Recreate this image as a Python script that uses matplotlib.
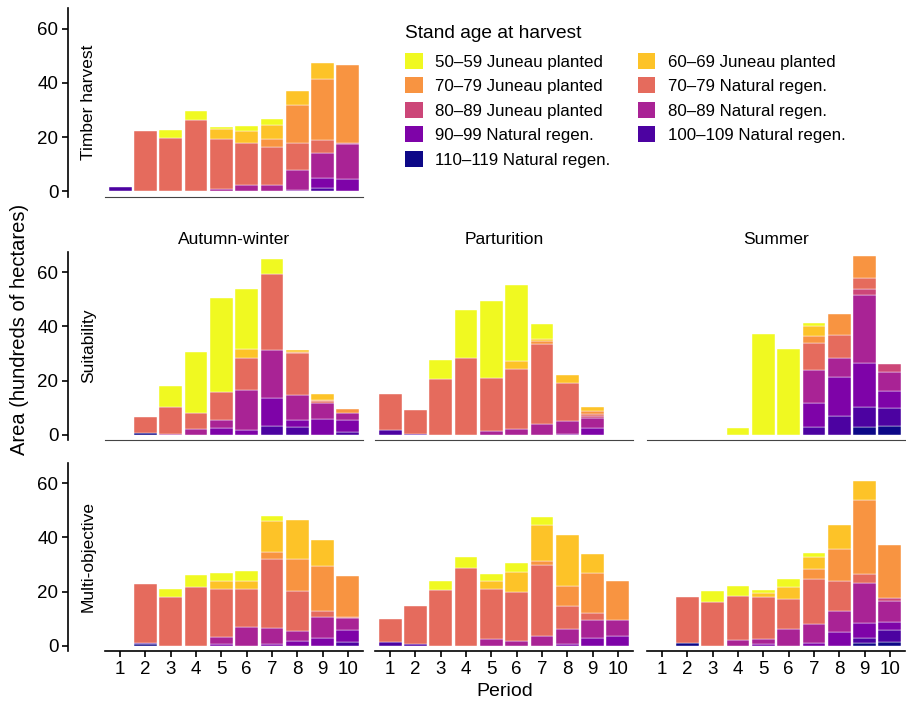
import numpy as np
import matplotlib
matplotlib.use("Agg")
import matplotlib.pyplot as plt
from matplotlib.patches import Patch

plt.rcParams['font.family'] = ['Liberation Sans', 'DejaVu Sans']

periods = np.arange(1, 11)

# legend order (youngest first); bars are stacked in reverse of this
categories = ["50–59 Juneau planted", "60–69 Juneau planted", "70–79 Juneau planted",
              "70–79 Natural regen.", "80–89 Juneau planted", "80–89 Natural regen.",
              "90–99 Natural regen.", "100–109 Natural regen.", "110–119 Natural regen."]
colors = ["#F0F921", "#FDC328", "#F89441", "#E56B5D", "#CC4678",
          "#A92395", "#7E03A8", "#4C02A1", "#0D0887"]

row_names = ["Timber harvest", "Suitability", "Multi-objective"]
col_names = ["Autumn-winter", "Parturition", "Summer"]

# one row per category (same order as `categories`), one column per period
timber = [
    [0, 0, 2.9, 3.3, 0.9, 1.6, 2.2, 0, 0, 0],
    [0, 0, 0, 0, 3.5, 4.4, 5.3, 5.2, 5.9, 0],
    [0, 0, 0, 0, 0, 0, 2.9, 13.9, 22.3, 29.0],
    [0, 22.3, 19.6, 26.5, 18.7, 15.7, 14.0, 10.1, 5.0, 0],
    [0, 0, 0, 0, 0, 0, 0, 0, 0, 0.3],
    [0, 0, 0, 0, 0.7, 2.3, 2.3, 7.4, 9.2, 13.0],
    [0, 0, 0, 0, 0, 0, 0, 0.4, 3.6, 4.5],
    [1.5, 0, 0, 0, 0, 0, 0, 0, 1.3, 0],
    [0, 0, 0, 0, 0, 0, 0, 0, 0, 0],
]

suit_autumn = [
    [0, 0, 8.0, 22.7, 34.7, 22.1, 5.5, 0, 0, 0],
    [0, 0, 0, 0, 0, 3.3, 0, 0.7, 2.1, 0],
    [0, 0, 0, 0, 0, 0, 0, 0.3, 0.6, 1.6],
    [0, 6.0, 9.8, 5.9, 10.3, 11.8, 28.3, 15.6, 0.6, 0],
    [0, 0, 0, 0, 0, 0, 0, 0, 0, 0],
    [0, 0, 0.3, 2.0, 2.8, 15.0, 17.7, 9.4, 5.8, 2.4],
    [0, 0, 0, 0, 2.5, 1.6, 10.1, 2.6, 5.9, 4.5],
    [0, 0, 0, 0, 0, 0, 3.3, 2.7, 0, 1.0],
    [0, 0.5, 0, 0, 0, 0, 0, 0, 0, 0],
]

suit_partur = [
    [0, 0, 7.2, 17.8, 28.4, 28.0, 5.4, 0, 0, 0],
    [0, 0, 0, 0, 0, 3.2, 1.0, 3.3, 1.8, 0],
    [0, 0, 0, 0, 0, 0, 1.1, 0, 1.0, 0],
    [13.5, 8.9, 20.5, 28.4, 19.8, 22.0, 29.6, 13.7, 0.7, 0],
    [0, 0, 0, 0, 0, 0, 0, 0, 0.6, 0],
    [0, 0, 0, 0, 1.2, 2.1, 3.8, 4.9, 4.0, 0],
    [0, 0, 0, 0, 0, 0, 0, 0.3, 2.3, 0],
    [1.6, 0.3, 0, 0, 0, 0, 0, 0, 0, 0],
    [0, 0, 0, 0, 0, 0, 0, 0, 0, 0],
]

suit_summer = [
    [0, 0, 0, 2.6, 37.0, 31.5, 1.1, 0, 0, 0],
    [0, 0, 0, 0, 0, 0, 3.9, 0, 0, 0],
    [0, 0, 0, 0, 0, 0, 2.4, 7.7, 7.8, 0],
    [0, 0, 0, 0, 0, 0, 10.1, 8.5, 4.3, 0],
    [0, 0, 0, 0, 0, 0, 0, 0, 2.2, 3.1],
    [0, 0, 0, 0, 0, 0, 12.2, 6.9, 25.2, 6.7],
    [0, 0, 0, 0, 0, 0, 8.9, 14.5, 16.2, 6.6],
    [0, 0, 0, 0, 0, 0, 2.7, 6.8, 7.3, 6.4],
    [0, 0, 0, 0, 0, 0, 0, 0, 2.8, 3.3],
]

multi_autumn = [
    [0, 0, 3.3, 4.6, 3.0, 3.5, 1.8, 0, 0, 0],
    [0, 0, 0, 0, 2.8, 3.2, 11.6, 14.3, 9.7, 0],
    [0, 0, 0, 0, 0, 0, 2.4, 11.7, 16.6, 14.9],
    [0, 21.8, 17.8, 21.5, 17.9, 13.9, 25.7, 14.9, 2.2, 0.5],
    [0, 0, 0, 0, 0, 0, 0, 0, 0, 0],
    [0, 0, 0, 0, 2.4, 6.9, 5.9, 3.6, 7.8, 4.3],
    [0, 0, 0, 0, 0.7, 0, 0.5, 1.8, 2.9, 4.5],
    [0, 0.5, 0, 0, 0, 0, 0, 0, 0, 1.4],
    [0, 0.6, 0, 0, 0, 0, 0, 0, 0, 0],
]

multi_partur = [
    [0, 0, 3.2, 4.1, 2.5, 3.1, 2.9, 0, 0, 0],
    [0, 0, 0, 0, 2.9, 7.3, 13.5, 19.1, 6.9, 0],
    [0, 0, 0, 0, 0, 0, 1.4, 7.2, 14.6, 14.5],
    [8.3, 14.1, 20.6, 28.8, 18.4, 18.3, 26.2, 8.6, 2.7, 0],
    [0, 0, 0, 0, 0, 0, 0, 0, 0, 0],
    [0, 0, 0, 0, 2.5, 1.7, 3.6, 5.4, 6.8, 5.7],
    [0, 0, 0, 0, 0, 0, 0, 0.7, 2.7, 3.6],
    [1.5, 0.5, 0, 0, 0, 0, 0, 0, 0, 0],
    [0, 0, 0, 0, 0, 0, 0, 0, 0, 0],
]

multi_summer = [
    [0, 0, 4.3, 3.7, 1.2, 2.9, 1.6, 0, 0, 0],
    [0, 0, 0, 0, 1.3, 4.7, 4.4, 8.9, 7.0, 0],
    [0, 0, 0, 0, 0, 0, 3.7, 11.8, 27.3, 19.4],
    [0, 16.8, 16.0, 16.3, 15.6, 11.0, 16.8, 11.1, 3.5, 0],
    [0, 0, 0, 0, 0, 0, 0, 0, 0, 1.1],
    [0, 0, 0, 2.1, 1.8, 6.1, 6.9, 7.5, 14.6, 7.7],
    [0, 0, 0, 0, 0.7, 0, 1.0, 5.2, 5.7, 3.1],
    [0, 0, 0, 0, 0, 0, 0, 0, 1.6, 4.3],
    [0, 1.1, 0, 0, 0, 0, 0, 0, 1.1, 1.5],
]

W, H = 906, 702


def add_axes_px(fig, left, top, width, height):
    # place an axes using pixel coordinates measured from the top-left corner
    return fig.add_axes([left / W, 1 - (top + height) / H, width / W, height / H])


def draw_panel(ax, data, show_y, show_x):
    base = np.zeros(len(periods))
    for i in range(len(categories) - 1, -1, -1):
        vals = np.array(data[i], dtype=float)
        m = vals > 0
        ax.bar(periods[m], vals[m], 0.9, bottom=base[m], color=colors[i],
               edgecolor='white', linewidth=0.3)
        base += vals

    ax.set_xlim(0.4, 10.6)
    ax.set_ylim(-1.97, 67.57)
    ax.spines['top'].set_visible(False)
    ax.spines['right'].set_visible(False)

    if show_y:
        ax.spines['left'].set_position(('outward', 26.6))
        ax.spines['left'].set_linewidth(1.2)
        ax.set_yticks([0, 20, 40, 60])
        ax.tick_params(axis='y', length=4, width=1.2, labelsize=13.5, pad=3)
    else:
        ax.spines['left'].set_visible(False)
        ax.set_yticks([])

    if show_x:
        ax.spines['bottom'].set_linewidth(1.2)
        ax.set_xticks(periods)
        ax.tick_params(axis='x', length=4, width=1.2, labelsize=13.5, pad=3)
    else:
        ax.spines['bottom'].set_color('#444444')
        ax.spines['bottom'].set_linewidth(0.8)
        ax.set_xticks([])


fig = plt.figure(figsize=(9.06, 7.02), dpi=100)

col_left = [105, 375, 647]
row_top = [8.3, 251.7, 462.7]
pw, ph = 258, 188.3

panels = {
    (0, 0): timber,
    (1, 0): suit_autumn, (1, 1): suit_partur, (1, 2): suit_summer,
    (2, 0): multi_autumn, (2, 1): multi_partur, (2, 2): multi_summer,
}

for (r, c), data in panels.items():
    ax = add_axes_px(fig, col_left[c], row_top[r], pw, ph)
    draw_panel(ax, data, show_y=(c == 0), show_x=(r == 2))

# row strips (placed between the y axis and the panels)
for r, name in enumerate(row_names):
    yc = row_top[r] + ph / 2
    fig.text(88.5 / W, 1 - yc / H, name, rotation=90, ha='center', va='center',
             fontsize=12.5)

# column strips over the middle row
for c, name in enumerate(col_names):
    fig.text((col_left[c] + pw / 2) / W, 1 - 239 / H, name, ha='center',
             va='center', fontsize=12.5)

fig.text(20 / W, 1 - 329 / H, "Area (hundreds of hectares)", rotation=90,
         ha='center', va='center', fontsize=14.5)
fig.text(505 / W, 1 - 692 / H, "Period", ha='center', va='center', fontsize=14)

# legend: matplotlib fills column-wise, so reorder to read row-wise like the original
order = [0, 2, 4, 6, 8, 1, 3, 5, 7]
handles = [Patch(facecolor=colors[i], edgecolor='none') for i in order]
labels = [categories[i] for i in order]
fig.text(405 / W, 1 - 33 / H, "Stand age at harvest", ha='left', va='center',
         fontsize=13.8)
fig.legend(handles, labels, ncol=2, loc='upper left',
           bbox_to_anchor=(405 / W, 1 - 53 / H), frameon=False,
           fontsize=12.2, borderpad=0, borderaxespad=0,
           handlelength=1.06, handleheight=1.06, handletextpad=0.72,
           labelspacing=0.46, columnspacing=1.6)

fig.savefig("out.png", dpi=100)
